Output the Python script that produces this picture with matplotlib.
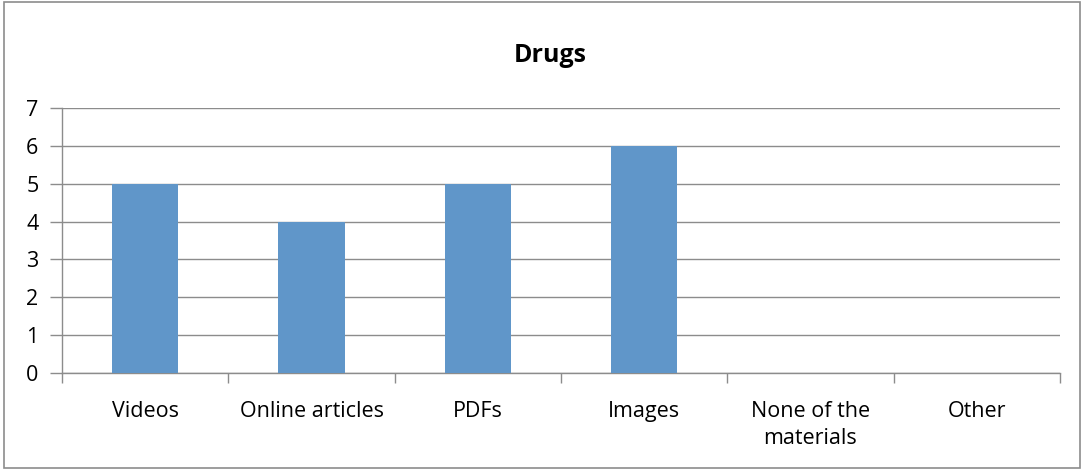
import matplotlib
matplotlib.use("Agg")
import matplotlib.pyplot as plt
from matplotlib.patches import Rectangle

categories = ["Videos", "Online articles", "PDFs", "Images", "None of the\nmaterials", "Other"]
values = [5, 4, 5, 6, 0, 0]
yticks = [0, 1, 2, 3, 4, 5, 6, 7]

plt.rcParams['font.family'] = ['Open Sans', 'DejaVu Sans']

fig = plt.figure(figsize=(10.84, 4.70), dpi=100)
fig.patches.append(Rectangle((4/1084, 2/470), 1076/1084, 466/470, transform=fig.transFigure,
                             fill=False, edgecolor='#8c8c8c', linewidth=1.2))

ax = fig.add_axes([62/1084, (470-373)/470, (1060-62)/1084, (373-108)/470])
x = list(range(len(categories)))
ax.bar(x, values, width=0.4, color='#6096C9', zorder=3)
ax.set_xlim(-0.5, len(categories) - 0.5)
ax.set_ylim(0, 7)
ax.set_yticks(yticks)
ax.set_yticklabels([str(v) for v in yticks], fontsize=15.5)
ax.set_xticks(x)
ax.set_xticklabels(categories, fontsize=15.5, linespacing=1.4)
ax.tick_params(axis='x', length=0, pad=20)
ax.set_xticks([i - 0.5 for i in range(len(categories) + 1)], minor=True)
ax.tick_params(axis='x', which='minor', length=7, color='#8c8c8c', width=1)
ax.tick_params(axis='y', length=9, color='#8c8c8c', width=1, pad=8)
ax.yaxis.grid(True, color='#8c8c8c', linewidth=1, zorder=0)
for s in ['top', 'right']:
    ax.spines[s].set_visible(False)
for s in ['left', 'bottom']:
    ax.spines[s].set_color('#8c8c8c')
    ax.spines[s].set_linewidth(1)
fig.text(550/1084, 1 - 56/470, "Drugs", fontsize=18, fontweight='bold', ha='center', va='center')

fig.savefig("out.png", dpi=100)
